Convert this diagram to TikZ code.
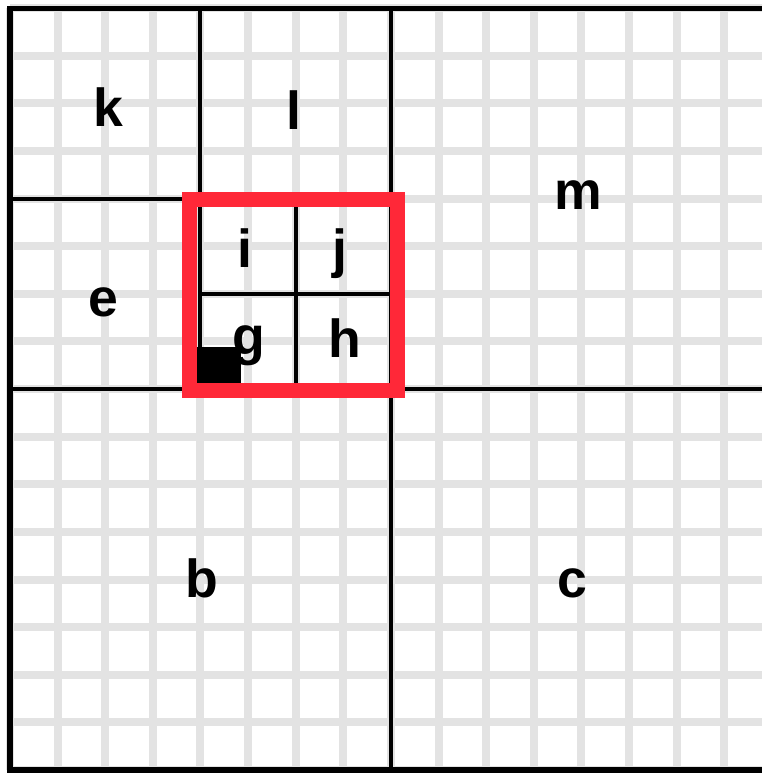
\documentclass[tikz,border=0pt]{standalone}
\usepackage{fontspec}
\setmainfont{Liberation Sans}
\definecolor{gridgray}{RGB}{227,227,227}
\definecolor{boxred}{RGB}{255,40,56}
\begin{document}
\begin{tikzpicture}[
    gridline/.style={gridgray, line width=4.8pt},
    cellline/.style={black, line width=2.4pt},
    lbl/.style={font=\fontsize{32}{32}\selectfont\bfseries, anchor=base, inner sep=0pt}
  ]
  \useasboundingbox (-0.21,-0.063) rectangle (15.78,16.17);

  % Rejilla gris de fondo
  \draw[gridline] (0,0) grid (16,16);

  % Divisiones del quadtree
  \draw[cellline] (8,0) -- (8,16);
  \draw[cellline] (0,8) -- (16,8);
  \draw[cellline] (4,8) -- (4,16);
  \draw[cellline] (0,12) -- (8,12);
  \draw[cellline] (6,8) -- (6,12);
  \draw[cellline] (4,10) -- (8,10);

  % Borde exterior
  \draw[black, line width=3pt] (0,0) rectangle (16,16);

  % Celda marcada
  \fill[black] (3.9,8.0) rectangle (4.85,8.88);

  % Recuadro rojo
  \draw[boxred, line width=9pt] (3.77,7.97) rectangle (8.14,11.98);

  % Etiquetas de las celdas
  \node[lbl] (k) at (2.06,13.52) {k};
  \node[lbl] (l) at (5.96,13.44) {l};
  \node[lbl] (m) at (11.94,11.76) {m};
  \node[lbl] (e) at (1.97,9.53) {e};
  \node[lbl] (i) at (4.93,10.55) {i};
  \node[lbl] (j) at (6.93,10.55) {j};
  \node[lbl] (g) at (5.02,8.72) {g};
  \node[lbl] (h) at (7.04,8.67) {h};
  \node[lbl] (b) at (4.03,3.63) {b};
  \node[lbl] (c) at (11.8,3.63) {c};
\end{tikzpicture}
\end{document}
